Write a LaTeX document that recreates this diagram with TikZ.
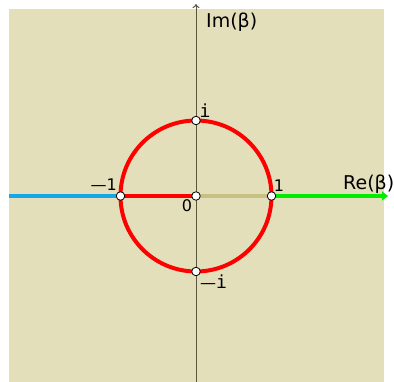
\documentclass[tikz,border=0pt]{standalone}
\usepackage{fontspec}
\setmainfont{DejaVu Sans}
\newfontfamily\imagfont{DejaVu Sans Mono}
\usetikzlibrary{positioning, arrows.meta}
\definecolor{bgcolor}{RGB}{227,223,187}
\definecolor{axiscolor}{RGB}{90,86,60}
\definecolor{unitcolor}{RGB}{255,0,0}
\definecolor{negcolor}{RGB}{20,168,230}
\definecolor{poscolor}{RGB}{0,235,0}
\definecolor{segcolor}{RGB}{200,192,130}

\begin{document}
\begin{tikzpicture}[x=1pt, y=-1pt,
    pnt/.style={circle, draw, fill=white, inner sep=0pt, minimum size=8.5pt, line width=0.8pt},
    lbl/.style={font=\fontsize{16}{16}\selectfont, inner sep=0pt},
    axlbl/.style={font=\fontsize{19}{19}\selectfont, inner sep=0pt, anchor=west},
    branch/.style={line width=4pt},
]
    \useasboundingbox (0,0) rectangle (394,382);
    \fill[bgcolor] (9,9) rectangle (384,382);
    % axes
    \coordinate (top) at (196,4);
    \coordinate (bot) at (196,382);
    \coordinate (west) at (9,196);
    \coordinate (east) at (388,196);
    \draw[axiscolor, line width=1pt, -{To[length=4pt,width=7pt]}] (bot) -- (top);
    % points on the axes
    \coordinate (c0) at (196,196);
    \coordinate (cm1) at (120.5,196);
    \coordinate (cp1) at (271.5,196);
    \coordinate (cpi) at (196,120.5);
    \coordinate (cmi) at (196,271.5);
    \draw[branch, negcolor] (west) -- (cm1);
    \draw[branch, poscolor, -{Triangle[length=6pt,width=9pt]}] (cp1) -- (east);
    \draw[branch, segcolor] (c0) -- (cp1);
    \draw[branch, unitcolor] (cm1) -- (c0);
    \draw[branch, unitcolor] (c0) circle (75.5);
    \node[pnt] (o) at (c0) {};
    \node[pnt] (m1) at (cm1) {};
    \node[pnt] (p1) at (cp1) {};
    \node[pnt] (pi) at (cpi) {};
    \node[pnt] (mi) at (cmi) {};
    % labels
    \node[axlbl] (im) at (206,22) {Im(β)};
    \node[axlbl] (re) at (343,184) {Re(β)};
    \node[lbl] (l0) at (187,206) {0};
    \node[lbl] (lp1) at (279,186) {1};
    \node[lbl, anchor=east] (lm1) at (117,185) {—1};
    \node[lbl] (lpi) at (205,111) {\imagfont\fontsize{18}{18}\selectfont i};
    \node[lbl, anchor=west] (lmi) at (200,281.5) {—\imagfont\fontsize{18}{18}\selectfont i};
\end{tikzpicture}
\end{document}
